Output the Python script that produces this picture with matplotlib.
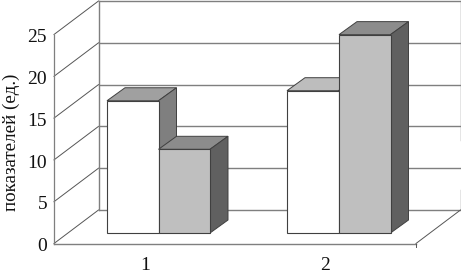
import matplotlib
matplotlib.use("Agg")
import matplotlib.pyplot as plt
from matplotlib.patches import Polygon

plt.rcParams['font.family'] = ['Liberation Serif', 'DejaVu Serif']

categories = [1, 2]
series_white = [15.8, 17.0]
series_gray = [10.0, 23.7]
y_ticks = [0, 5, 10, 15, 20, 25]
y_label = "показателей (ед.)"

# pixel scale of the picture, everything below is in data units
PX_X = 1 / 180.5
PX_Y = 1 / 8.37
W, H = 461, 271


def dx(px):
    return px * PX_X


def dy(px):
    return px * PX_Y


fig = plt.figure(figsize=(W / 100, H / 100), dpi=100)
ax = fig.add_axes([0, 0, 1, 1])
ax.set_xlim(1 - dx(158.5), 1 + dx(W - 158.5))
ax.set_ylim(-dy(H - 233), dy(233))
ax.axis("off")

# axis frame: the front floor edge sits below the bar base
left = 1 - dx(158.5 - 54)
right = 1 + dx(416 - 158.5)
wall_right = 1 + dx(460.5 - 158.5)
v0 = -dy(10.5)
scale = dy(41.8) / 5
depth_x, depth_y = dx(44.5), dy(33.5)
line_gray = "#7f7f7f"
slant = "#555555"


def val_y(v):
    return v0 + v * scale


for v in y_ticks:
    y = val_y(v)
    ax.plot([left, left + depth_x], [y, y + depth_y], color=slant, lw=0.7, zorder=1)
    ax.plot([left + depth_x, wall_right], [y + depth_y, y + depth_y], color=line_gray, lw=1.0, zorder=1)
    ax.text(left - dx(7), y - dy(3.2), str(v), ha="right", va="center", fontsize=14, color="#111111")

# left wall and front floor
ax.plot([left, left], [val_y(0), val_y(25)], color=line_gray, lw=0.9, zorder=1)
ax.plot([left + depth_x] * 2, [val_y(0) + depth_y, val_y(25) + depth_y], color=line_gray, lw=1.0, zorder=1)
ax.plot([left, right], [val_y(0), val_y(0)], color=line_gray, lw=1.0, zorder=1)
ax.plot([right, right + depth_x], [val_y(0), val_y(0) + depth_y], color=slant, lw=0.7, zorder=1)
ax.plot([right, right], [val_y(0), val_y(0) - dy(3)], color=slant, lw=0.7, zorder=1)
ax.plot([wall_right] * 2, [dy(233 - 140), val_y(25) + depth_y], color=line_gray, lw=1.0, zorder=1)
ax.plot([wall_right] * 2, [val_y(0) + depth_y, dy(233 - 190)], color=line_gray, lw=1.0, zorder=1)

# bars
bar_w = dx(51.5)
bar_dx, bar_dy = dx(18), dy(13)
edge = "#404040"


def bar3d(x0, value, front, top, side, z):
    x1 = x0 + bar_w
    ax.bar(x0, value, width=bar_w, align="edge", color=front, edgecolor=edge, linewidth=0.8, zorder=z + 0.2)
    ax.add_patch(Polygon([(x0, value), (x1, value), (x1 + bar_dx, value + bar_dy), (x0 + bar_dx, value + bar_dy)],
                         closed=True, facecolor=top, edgecolor=edge, linewidth=0.7, zorder=z))
    ax.add_patch(Polygon([(x1, 0), (x1 + bar_dx, bar_dy), (x1 + bar_dx, value + bar_dy), (x1, value)],
                         closed=True, facecolor=side, edgecolor=edge, linewidth=0.7, zorder=z))


top_colors = ["#a0a0a0", "#bdbdbd"]
for i, cat in enumerate(categories):
    bar3d(cat - bar_w - dx(0.5 * i), series_white[i], "white", top_colors[i], "#7f7f7f", 2 + i * 2)
    bar3d(cat, series_gray[i], "#bfbfbf", "#8c8c8c", "#606060", 3 + i * 2)
    ax.text(cat - dx(13.5), v0 - dy(22), str(cat), ha="center", va="center", fontsize=14, color="#111111")

ax.text(1 - dx(147), dy(233 - 142), y_label, rotation=90, ha="center", va="center", fontsize=13.7, color="#111111")

fig.savefig("out.png", dpi=100)
